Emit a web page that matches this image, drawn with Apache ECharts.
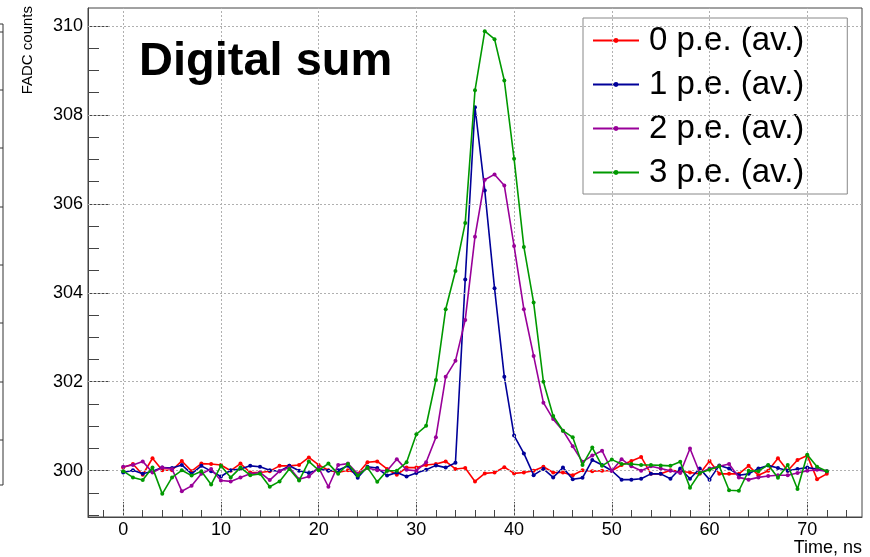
<!DOCTYPE html>
<html>
<head>
<meta charset="utf-8">
<script src="https://cdn.jsdelivr.net/npm/echarts@6/dist/echarts.min.js"></script>
<style>
  html, body { margin: 0; padding: 0; background: #fff; }
  #chart { width: 870px; height: 557px; }
</style>
</head>
<body>
<div id="chart"></div>
<script>
// Sample times (ns)
const timeNs = [0,1,2,3,4,5,6,7,8,9,10,11,12,13,14,15,16,17,18,19,20,21,22,23,24,25,26,27,28,29,30,31,32,33,34,35,36,37,38,39,40,41,42,43,44,45,46,47,48,49,50,51,52,53,54,55,56,57,58,59,60,61,62,63,64,65,66,67,68,69,70,71,72];

// Averaged digital-sum waveforms, FADC counts
const pe0 = [300.07,300.15,299.91,300.28,300.01,300.01,300.22,299.99,300.16,300.15,
             300.13,300.00,300.16,299.96,299.96,299.99,300.11,300.11,300.13,300.30,
             300.13,300.01,299.96,300.01,299.93,300.19,300.21,300.04,299.91,300.07,
             300.07,300.13,300.15,300.21,300.04,300.06,299.76,299.94,299.96,300.08,
             299.94,299.96,300.00,300.09,299.96,299.96,299.90,300.01,299.99,300.00,
             300.00,300.13,300.22,300.31,299.93,299.93,300.01,299.99,299.96,299.93,
             300.22,299.93,299.93,299.93,300.11,299.90,300.00,300.28,300.00,300.24,
             300.34,299.81,299.93];
const pe1 = [299.96,300.01,299.93,299.99,300.07,300.06,300.13,299.93,300.11,299.99,
             299.87,300.01,300.04,300.11,300.09,300.01,299.99,300.11,300.00,299.95,
             300.04,300.00,300.01,300.11,299.84,300.09,300.06,299.89,299.96,299.87,
             299.95,300.02,300.12,300.07,300.18,304.30,308.17,306.30,304.10,302.11,
             300.79,300.39,299.90,300.04,299.85,300.07,299.81,299.84,300.24,300.13,
             300.00,299.80,299.80,299.82,299.93,299.93,299.82,300.05,299.82,300.05,
             299.80,300.12,300.05,299.90,299.93,300.05,300.12,300.06,300.00,300.04,
             300.07,300.04,299.99];
const pe2 = [300.09,300.13,300.21,299.96,300.07,300.04,299.54,299.66,299.93,300.04,
             299.78,299.76,299.85,299.93,299.96,299.79,299.99,300.07,299.81,299.87,
             300.07,299.64,300.13,300.16,299.93,300.06,300.01,300.00,300.26,300.02,
             300.00,300.19,300.75,302.11,302.47,303.39,305.26,306.54,306.66,306.41,
             305.05,303.63,302.58,301.53,301.16,300.90,300.55,300.20,300.34,300.45,
             300.00,300.26,300.10,300.00,300.10,300.05,300.00,299.95,300.50,299.95,
             300.05,300.10,300.15,299.85,299.80,299.85,299.88,299.90,299.90,299.95,
             300.00,300.02,299.99];
const pe3 = [299.99,299.85,299.79,300.07,299.48,299.85,300.01,299.89,299.99,299.69,
             300.11,299.85,300.07,299.90,299.93,299.64,299.76,300.04,299.78,300.21,
             300.01,300.16,299.93,300.15,299.89,300.07,299.75,300.00,300.00,300.19,
             300.82,301.01,302.04,303.63,304.49,305.57,308.55,309.88,309.70,308.77,
             307.01,305.03,303.78,302.00,301.23,300.90,300.75,300.13,300.52,300.11,
             300.25,300.15,300.15,300.13,300.13,300.12,300.11,300.20,299.62,299.95,
             300.02,300.10,299.56,299.55,300.00,299.99,300.13,299.84,300.13,299.59,
             300.36,300.09,299.99];

const seriesNames = ['0 p.e. (av.)', '1 p.e. (av.)', '2 p.e. (av.)', '3 p.e. (av.)'];
const seriesValues = [pe0, pe1, pe2, pe3];
const seriesColors = ['#ff0000', '#000099', '#990099', '#009900'];

// Axis ticks and labels
const xMajorTicks = [0, 10, 20, 30, 40, 50, 60, 70];
const xMinorTicks = [-2,0,2,4,6,8,10,12,14,16,18,20,22,24,26,28,30,32,34,36,38,40,42,44,46,48,50,52,54,56,58,60,62,64,66,68,70,72,74];
const yMajorTicks = [300, 302, 304, 306, 308, 310];
const yMinorTicks = [299,299.5,300,300.5,301,301.5,302,302.5,303,303.5,304,304.5,305,305.5,306,306.5,307,307.5,308,308.5,309,309.5,310];

const FONT = '"Liberation Sans", Arial, Helvetica, sans-serif';
const AXIS_COLOR = '#444';

const chart = echarts.init(document.getElementById('chart'), null, { renderer: 'canvas' });

const pairs = (vals) => timeNs.map((t, i) => [t, vals[i]]);

const dataSeries = seriesNames.map((name, k) => ({
  name: name,
  type: 'line',
  data: pairs(seriesValues[k]),
  xAxisIndex: 0,
  yAxisIndex: 0,
  symbol: 'circle',
  symbolSize: 4,
  showSymbol: true,
  color: seriesColors[k],
  lineStyle: { width: 1.6, color: seriesColors[k] },
  itemStyle: { color: seriesColors[k] },
  z: 3 + k
}));

// dotted grid at the major ticks
const gridSeries = {
  name: 'grid',
  type: 'line',
  data: [],
  xAxisIndex: 0,
  yAxisIndex: 0,
  silent: true,
  z: 1,
  markLine: {
    silent: true,
    symbol: ['none', 'none'],
    label: { show: false },
    lineStyle: { type: [2, 2], color: '#b0b0b0', width: 1 },
    data: xMajorTicks.map(v => ({ xAxis: v })).concat(yMajorTicks.map(v => ({ yAxis: v })))
  }
};

const baseX = {
  type: 'value', min: -3.6, max: 75.6, position: 'bottom',
  splitLine: { show: false }
};
const baseY = {
  type: 'value', min: 298.96, max: 310.4, position: 'left',
  splitLine: { show: false }
};

// frame edge of the neighbouring panel, with its small ticks
const edgeTickY = [32, 90, 148, 207, 265, 323, 382, 440];
const edgeGraphics = [
  { type: 'polyline', silent: true, shape: { points: [[0, 24], [3, 24], [3, 485], [0, 485]] },
    style: { stroke: '#333', lineWidth: 1, fill: null } }
].concat(edgeTickY.map(y => ({
  type: 'line', silent: true, shape: { x1: 0, y1: y, x2: 3, y2: y },
  style: { stroke: '#333', lineWidth: 1 }
})));

chart.setOption({
  animation: false,
  backgroundColor: '#fff',
  textStyle: { fontFamily: FONT },
  title: {
    text: 'Digital sum',
    left: 134, top: 34,
    textStyle: { fontFamily: FONT, fontSize: 47, fontWeight: 'bold', color: '#000' }
  },
  legend: {
    data: seriesNames,
    orient: 'vertical',
    left: 583, top: 18,
    padding: [6, 43, 5, 9],
    itemGap: 11,
    itemWidth: 46,
    itemHeight: 6,
    backgroundColor: '#fff',
    borderColor: '#888',
    borderWidth: 1,
    borderRadius: 0,
    textStyle: { fontFamily: FONT, fontSize: 33, color: '#000', padding: [0, 0, 0, 5] }
  },
  grid: {
    left: 88, top: 8, right: 8, bottom: 40,
    show: true, borderColor: AXIS_COLOR, borderWidth: 1, backgroundColor: 'transparent'
  },
  xAxis: [
    Object.assign({}, baseX, {
      axisLine: { show: true, onZero: false, lineStyle: { color: AXIS_COLOR, width: 1 } },
      axisTick: { show: true, inside: true, length: 15, customValues: xMajorTicks, lineStyle: { color: AXIS_COLOR } },
      axisLabel: { show: true, customValues: xMajorTicks, margin: 4, fontSize: 18, color: '#000', fontFamily: FONT }
    }),
    Object.assign({}, baseX, {
      axisLine: { show: false, onZero: false },
      axisTick: { show: true, inside: true, length: 7, customValues: xMinorTicks, lineStyle: { color: AXIS_COLOR } },
      axisLabel: { show: false }
    })
  ],
  yAxis: [
    Object.assign({}, baseY, {
      axisLine: { show: true, onZero: false, lineStyle: { color: AXIS_COLOR, width: 1 } },
      axisTick: { show: true, inside: true, length: 22, customValues: yMajorTicks, lineStyle: { color: AXIS_COLOR } },
      axisLabel: { show: true, customValues: yMajorTicks, margin: 5, fontSize: 18, color: '#000', fontFamily: FONT }
    }),
    Object.assign({}, baseY, {
      axisLine: { show: false, onZero: false },
      axisTick: { show: true, inside: true, length: 11, customValues: yMinorTicks, lineStyle: { color: AXIS_COLOR } },
      axisLabel: { show: false }
    })
  ],
  graphic: [
    {
      type: 'text', x: 28, y: 6, rotation: Math.PI / 2,
      style: { text: 'FADC counts', font: '15px ' + FONT, fill: '#000', align: 'right', verticalAlign: 'middle' }
    },
    {
      type: 'text', x: 862, y: 548,
      style: { text: 'Time, ns', font: '18px ' + FONT, fill: '#000', align: 'right', verticalAlign: 'middle' }
    }
  ].concat(edgeGraphics),
  series: [gridSeries].concat(dataSeries)
});
</script>
</body>
</html>
